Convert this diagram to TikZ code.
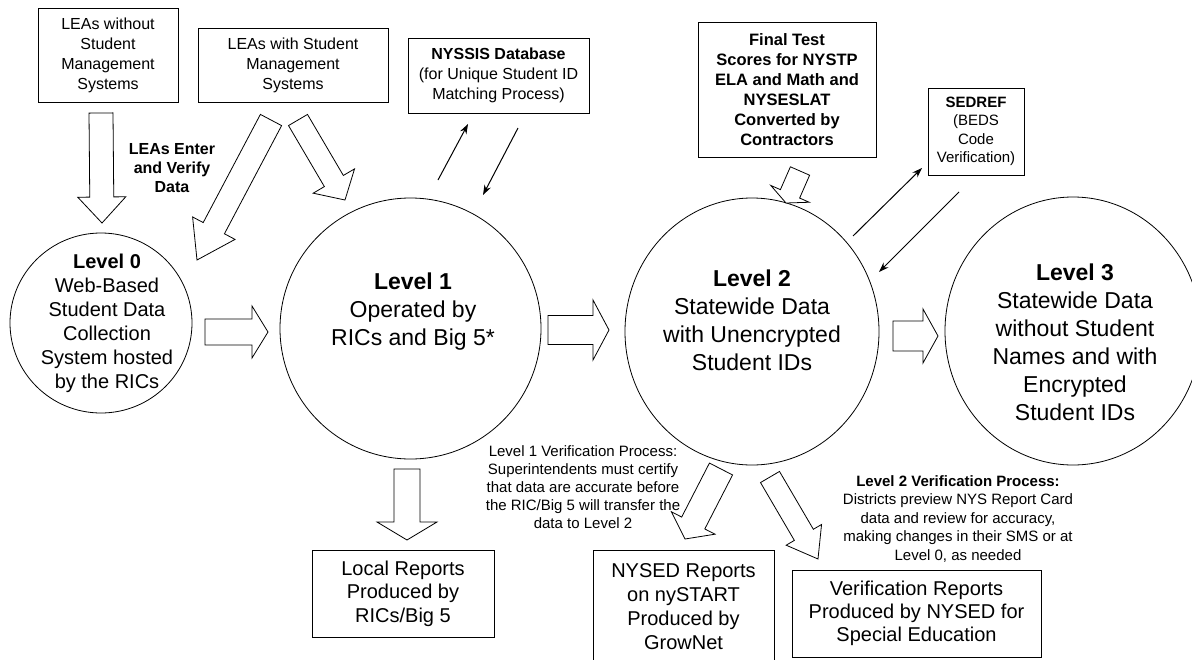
\documentclass[tikz,border=0pt]{standalone}
\usepackage{fontspec}
\setmainfont{Liberation Sans}
\usetikzlibrary{shapes.geometric,calc,arrows.meta}
\tikzset{box/.style={draw, line width=0.8pt, inner sep=0pt, align=center, font=\fontsize{16}{20}\selectfont},
  lvl/.style={draw, ellipse, line width=0.8pt, inner sep=0pt},
  big/.style={align=center, font=\fontsize{23}{28}\selectfont},
  note/.style={align=center, font=\fontsize{15}{18}\selectfont},
  blk/.style={draw, fill=white, line width=0.8pt},
  thin/.style={-{Stealth[length=10pt,width=7pt]}, line width=1pt}}
\newcommand\blockarrow[5]{%
  \coordinate (hb) at ($(#2)!#5pt!(#1)$);
  \draw[blk] ($(#1)!#3pt!90:(#2)$) -- ($(hb)!#3pt!-90:(#1)$) -- ($(hb)!#4pt!-90:(#1)$) -- (#2)
    -- ($(hb)!#4pt!90:(#1)$) -- ($(hb)!#3pt!90:(#1)$) -- ($(#1)!#3pt!-90:(#2)$) -- cycle;}

\begin{document}
\begin{tikzpicture}[x=1pt,y=-1pt]
\useasboundingbox[fill=white] (0,0) rectangle (1192,659);

\node[box, minimum width=140, minimum height=94] (leaA) at (108,55) {LEAs without\\Student\\Management\\Systems};
\node[box, minimum width=190, minimum height=74] (leaB) at (293,65) {LEAs with Student\\Management\\Systems};
\node[box, minimum width=181, minimum height=75] (nyssis) at (498.5,75.5) {\textbf{NYSSIS Database}\\(for Unique Student ID\\Matching Process)};
\node[box, minimum width=178, minimum height=135, font=\bfseries\fontsize{16.5}{20}\selectfont] (final) at (787,89.5) {Final Test\\Scores for NYSTP\\ELA and Math and\\NYSESLAT\\Converted by\\Contractors};
\node[box, minimum width=96, minimum height=87, font=\fontsize{15}{18.5}\selectfont] (sedref) at (976,131.5) {\textbf{SEDREF}\\(BEDS\\Code\\Verification)};
\node[box, minimum width=182, minimum height=87, font=\fontsize{20}{23.5}\selectfont] (local) at (403,593.5) {Local Reports\\Produced by\\RICs/Big 5};
\node[box, minimum width=181, minimum height=114, font=\fontsize{20}{24}\selectfont] (nysed) at (683.5,607) {NYSED Reports\\on nySTART\\Produced by\\GrowNet};
\node[box, minimum width=249, minimum height=87, font=\fontsize{20}{23}\selectfont] (verif) at (916.5,613.5) {Verification Reports\\Produced by NYSED for\\Special Education};

\node[lvl, minimum width=182, minimum height=180] (L0) at (101,323) {};
\node[lvl, minimum size=261] (L1) at (410.5,328.5) {};
\node[lvl, minimum width=254, minimum height=267] (L2) at (752,331.5) {};
\node[lvl, minimum width=256, minimum height=268] (L3) at (1073,331) {};

\node[align=center, font=\fontsize{20}{24}\selectfont] (L0t) at (107,323) {\textbf{Level 0}\\Web-Based\\Student Data\\Collection\\System hosted\\by the RICs};
\node[big] (L1t) at (413,312) {\textbf{Level 1}\\Operated by\\RICs and Big 5*};
\node[big] (L2t) at (752,320) {\textbf{Level 2}\\Statewide Data\\with Unencrypted\\Student IDs};
\node[big] (L3t) at (1075,342) {\textbf{Level 3}\\Statewide Data\\without Student\\Names and with\\Encrypted\\Student IDs};

\node[align=center, font=\bfseries\fontsize{16}{19}\selectfont] (enter) at (172,168) {LEAs Enter\\and Verify\\Data};
\node[note] (v1) at (583,487) {Level 1 Verification Process:\\Superintendents must certify\\that data are accurate before\\the RIC/Big 5 will transfer the\\data to Level 2};
\node[note, font=\fontsize{15}{18.5}\selectfont] (v2) at (958,519) {\textbf{Level 2 Verification Process:}\\Districts preview NYS Report Card\\data and review for accuracy,\\making changes in their SMS or at\\Level 0, as needed};

\coordinate (t1) at (101,113); \coordinate (h1) at (102,223);
\coordinate (t2) at (271,120); \coordinate (h2) at (197,260);
\coordinate (t3) at (298,120); \coordinate (h3) at (345,200);
\coordinate (t4) at (205,332); \coordinate (h4) at (268,332);
\coordinate (t5) at (548,330); \coordinate (h5) at (609,330);
\coordinate (t6) at (893,336); \coordinate (h6) at (938,336);
\coordinate (t7) at (407,469); \coordinate (h7) at (407,540);
\coordinate (t8) at (721,469); \coordinate (h8) at (685,539);
\coordinate (t9) at (770,477); \coordinate (h9) at (818,559);
\coordinate (t10) at (800,171); \coordinate (h10) at (786,203);

\blockarrow{t1}{h1}{12}{24}{26}
\blockarrow{t2}{h2}{12}{24}{36}
\blockarrow{t3}{h3}{11}{24}{22}
\blockarrow{t4}{h4}{13}{26}{16}
\blockarrow{t5}{h5}{14.5}{30}{16}
\blockarrow{t6}{h6}{15}{27}{15}
\blockarrow{t7}{h7}{13}{30}{18}
\blockarrow{t8}{h8}{13}{24.5}{18}
\blockarrow{t9}{h9}{11}{20.5}{28}
\blockarrow{t10}{h10}{10.5}{21}{10}

\coordinate (n1) at (438,180); \coordinate (n2) at (468,124);
\coordinate (n3) at (518,128); \coordinate (n4) at (483,195);
\coordinate (s1) at (853,236); \coordinate (s2) at (922,168);
\coordinate (s3) at (959,192); \coordinate (s4) at (879,272);
\draw[thin] (n1) -- (n2);
\draw[thin] (n3) -- (n4);
\draw[thin] (s1) -- (s2);
\draw[thin] (s3) -- (s4);
\end{tikzpicture}
\end{document}
